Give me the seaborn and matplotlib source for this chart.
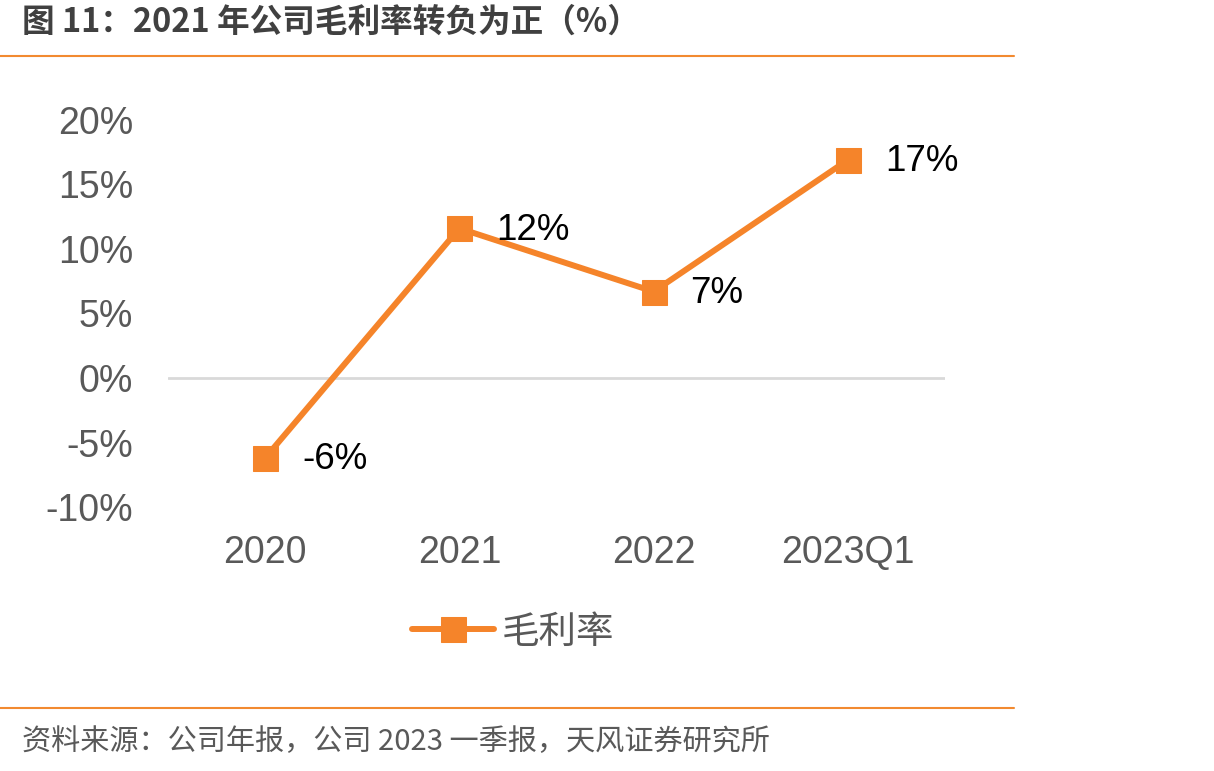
import pandas as pd
import seaborn as sns
import matplotlib.pyplot as plt
from matplotlib.lines import Line2D

# 数据
periods = ['2020', '2021', '2022', '2023Q1']
gross_margin = [-6.2, 11.6, 6.7, 16.9]
value_labels = ['-6%', '12%', '7%', '17%']
y_ticks = [-10, -5, 0, 5, 10, 15, 20]

sns.set_theme(style='white')
plt.rcParams['font.family'] = ['Liberation Sans', 'Noto Sans CJK SC', 'DejaVu Sans']

orange = '#F5842A'
gray = '#595959'

df = pd.DataFrame({'period': periods, 'value': gross_margin})

fig = plt.figure(figsize=(12.14, 7.71), dpi=100)
ax = fig.add_axes([0.1384, 0.3424, 0.64, 0.502])

sns.lineplot(data=df, x='period', y='value', ax=ax, color=orange, linewidth=4.3,
             marker='s', markersize=18, markeredgecolor=orange, label='毛利率', sort=False)

ax.axhline(0, color='#D9D9D9', linewidth=2, zorder=0)

for i, (v, lab) in enumerate(zip(gross_margin, value_labels)):
    ax.text(i + 0.19, v - 0.15, lab, fontsize=26.5, color='black', va='center', ha='left')

ax.set_xlim(-0.5, 3.5)
ax.set_ylim(-10, 20)
ax.set_yticks(y_ticks)
ax.set_yticklabels([f'{t}%' for t in y_ticks])
ax.tick_params(axis='both', labelsize=27, labelcolor=gray, length=0)
ax.tick_params(axis='y', pad=25)
ax.tick_params(axis='x', pad=20)
ax.set_xlabel('')
ax.set_ylabel('')
for s in ax.spines.values():
    s.set_visible(False)

leg = ax.legend(loc='center', bbox_to_anchor=(513 / 1214, 1 - 632 / 771),
                bbox_transform=fig.transFigure, frameon=False, fontsize=27,
                handlelength=2.2, handletextpad=0.2)
for t in leg.get_texts():
    t.set_color(gray)
    t.set_family(['Noto Sans CJK SC', 'DejaVu Sans'])

# 标题和来源
fig.text(22 / 1214, 1 - 22 / 771, '图 11：2021 年公司毛利率转负为正（%）', fontsize=23.5,
         fontweight='bold', color='#404040', va='center', ha='left',
         family=['Noto Sans CJK SC', 'DejaVu Sans'])
fig.add_artist(Line2D([0, 1014 / 1214], [1 - 56 / 771] * 2, color='#F28A30', linewidth=1.5))
fig.add_artist(Line2D([0, 1014 / 1214], [1 - 708 / 771] * 2, color='#F28A30', linewidth=1.5))
fig.text(22 / 1214, 1 - 742 / 771, '资料来源：公司年报，公司 2023 一季报，天风证券研究所', fontsize=21,
         color=gray, va='center', ha='left', family=['Noto Sans CJK SC', 'DejaVu Sans'])

fig.savefig('out.png', dpi=100)
